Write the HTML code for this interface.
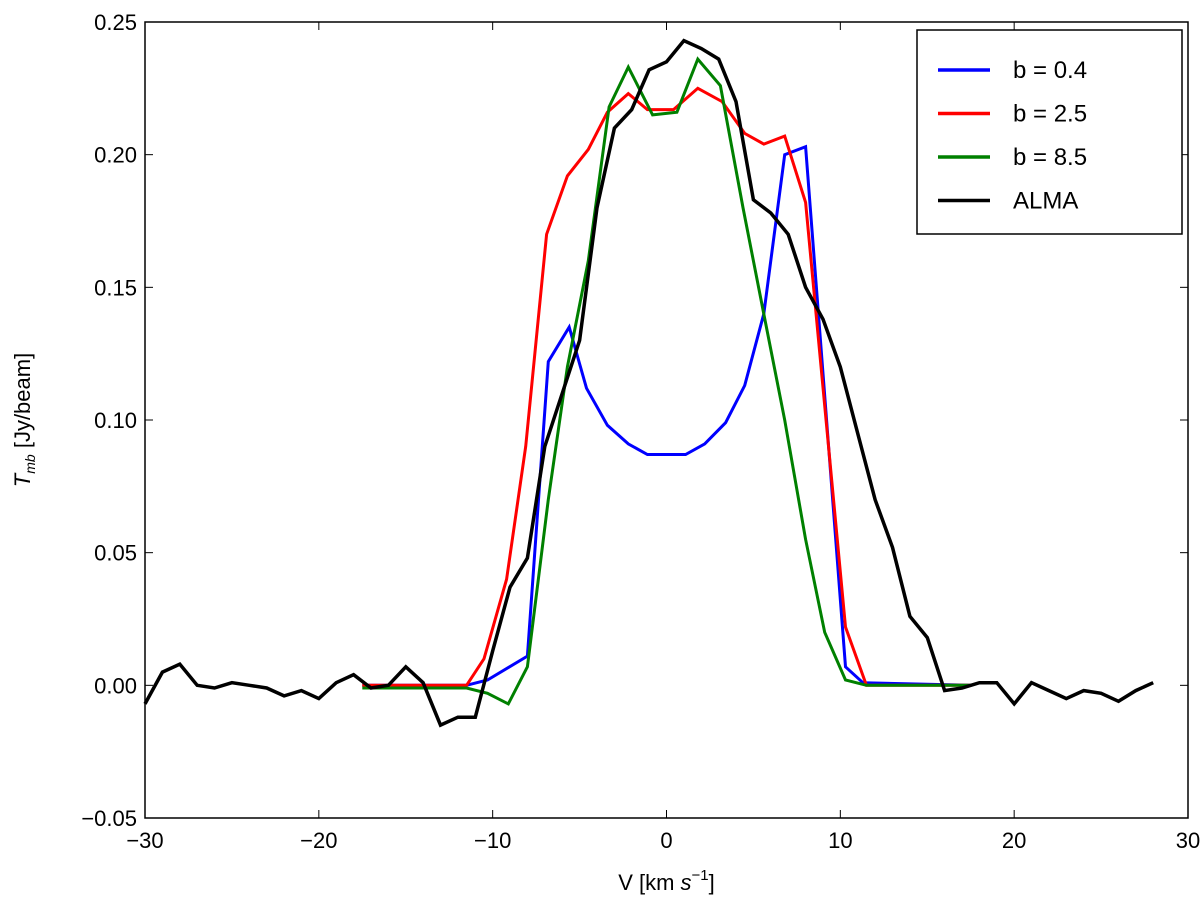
<!DOCTYPE html>
<html><head><meta charset="utf-8"><style>body{margin:0;background:#fff}svg{display:block;font-family:"Liberation Sans",sans-serif}</style></head>
<body>
<svg id="chart" width="1200" height="901"></svg>
<script>
const xTicks=[-30,-20,-10,0,10,20,30];
const yTicks=[-0.05,0,0.05,0.10,0.15,0.20,0.25];
const yTickLabels=["\u22120.05","0.00","0.05","0.10","0.15","0.20","0.25"];
const xTickLabels=["\u221230","\u221220","\u221210","0","10","20","30"];
const seriesNames=["b = 0.4","b = 2.5","b = 8.5","ALMA"];
const blueV=[-17.5,-11.5,-10.3,-8.0,-6.8,-5.6,-4.6,-3.4,-2.2,-1.1,0,1.1,2.2,3.4,4.5,5.6,6.8,8.0,10.3,11.3,17.5];
const blueT=[0,0,0.002,0.011,0.122,0.135,0.112,0.098,0.091,0.087,0.087,0.087,0.091,0.099,0.113,0.14,0.2,0.203,0.007,0.001,0];
const redV=[-17.5,-11.5,-10.5,-9.2,-8.1,-6.9,-5.7,-4.5,-3.4,-2.2,-1.1,0.4,1.8,3.2,4.5,5.6,6.8,8.0,10.3,11.5,17.5];
const redT=[0,0,0.01,0.04,0.09,0.17,0.192,0.202,0.216,0.223,0.217,0.217,0.225,0.22,0.208,0.204,0.207,0.182,0.022,0,0];
const greenV=[-17.5,-11.5,-10.3,-9.1,-8.0,-6.8,-5.7,-4.5,-3.3,-2.2,-0.8,0.6,1.8,3.1,4.4,5.6,6.8,8.0,9.1,10.3,11.5,17.5];
const greenT=[-0.001,-0.001,-0.003,-0.007,0.007,0.07,0.12,0.16,0.218,0.233,0.215,0.216,0.236,0.226,0.18,0.14,0.1,0.055,0.02,0.002,0,0];
const almaV=[-30,-29,-28,-27,-26,-25,-24,-23,-22,-21,-20,-19,-18,-17,-16,-15,-14,-13,-12,-11,-10,-9,-8,-7,-6,-5,-4,-3,-2,-1,0,1,2,3,4,5,6,7,8,9,10,11,12,13,14,15,16,17,18,19,20,21,22,23,24,25,26,27,28];
const almaT=[-0.007,0.005,0.008,0,-0.001,0.001,0,-0.001,-0.004,-0.002,-0.005,0.001,0.004,-0.001,0,0.007,0.001,-0.015,-0.012,-0.012,0.013,0.037,0.048,0.09,0.11,0.13,0.18,0.21,0.217,0.232,0.235,0.243,0.24,0.236,0.22,0.183,0.178,0.17,0.15,0.138,0.12,0.095,0.07,0.052,0.026,0.018,-0.002,-0.001,0.001,0.001,-0.007,0.001,-0.002,-0.005,-0.002,-0.003,-0.006,-0.002,0.001];

const L=145,R=1188,T=22,B=818;
const X=v=>L+(v+30)/60*(R-L);
const Y=t=>B-(t+0.05)/0.3*(B-T);
const svg=document.getElementById('chart');
const NS='http://www.w3.org/2000/svg';
function mk(tag,attrs,parent){const e=document.createElementNS(NS,tag);for(const k in attrs)e.setAttribute(k,attrs[k]);(parent||svg).appendChild(e);return e;}

const frame=mk('rect',{x:L,y:T,width:R-L,height:B-T,fill:'none',stroke:'#000','stroke-width':1.5});



xTicks.forEach((v,i)=>{
  const g=mk('g',{});
  
  
  mk('line',{x1:X(v),x2:X(v),y1:B,y2:B-8,stroke:'#000','stroke-width':1},g);
  mk('line',{x1:X(v),x2:X(v),y1:T,y2:T+8,stroke:'#000','stroke-width':1},g);
  const t=mk('text',{x:X(v),y:B+30,'text-anchor':'middle','font-size':22},g);
  t.textContent=xTickLabels[i];
});
yTicks.forEach((v,i)=>{
  const g=mk('g',{});
  
  
  mk('line',{x1:L,x2:L+8,y1:Y(v),y2:Y(v),stroke:'#000','stroke-width':1},g);
  mk('line',{x1:R,x2:R-8,y1:Y(v),y2:Y(v),stroke:'#000','stroke-width':1},g);
  const t=mk('text',{x:L-8,y:Y(v)+8,'text-anchor':'end','font-size':22},g);
  t.textContent=yTickLabels[i];
});
const xt=mk('text',{x:(L+R)/2,y:890,'text-anchor':'middle','font-size':22});


xt.innerHTML='V [km <tspan font-style="italic">s</tspan><tspan font-size="15" dy="-10">\u22121</tspan><tspan dy="10">]</tspan>';
const yt=mk('text',{x:0,y:0,'text-anchor':'middle','font-size':22,transform:'translate(30,420) rotate(-90)'});


yt.innerHTML='<tspan font-style="italic">T</tspan><tspan font-size="14" font-style="italic" dy="5">mb</tspan><tspan dy="-5"> [Jy/beam]</tspan>';

const series=[[blueV,blueT,'#0000ff'],[redV,redT,'#ff0000'],[greenV,greenT,'#008000'],[almaV,almaT,'#000000']];
const names=['series-b-0-4','series-b-2-5','series-b-8-5','series-alma'];
series.forEach((s,i)=>{
  const d=s[0].map((v,j)=>(j?'L':'M')+X(v).toFixed(1)+','+Y(s[1][j]).toFixed(1)).join('');
  const p=mk('path',{d:d,fill:'none',stroke:s[2],'stroke-width':i==3?3.5:3,'stroke-linejoin':'miter'});
  
  
});

const lg=mk('g',{});


mk('rect',{x:917,y:30,width:265,height:204,fill:'#fff',stroke:'#000','stroke-width':1.5},lg);
series.forEach((s,i)=>{
  const e=mk('g',{},lg);
  
  
  const y=70+i*43.5;
  mk('line',{x1:938,x2:990,y1:y,y2:y,stroke:s[2],'stroke-width':3.5},e);
  const t=mk('text',{x:1013,y:y+8,'font-size':24},e);
  t.textContent=seriesNames[i];
});
</script>
</body></html>
